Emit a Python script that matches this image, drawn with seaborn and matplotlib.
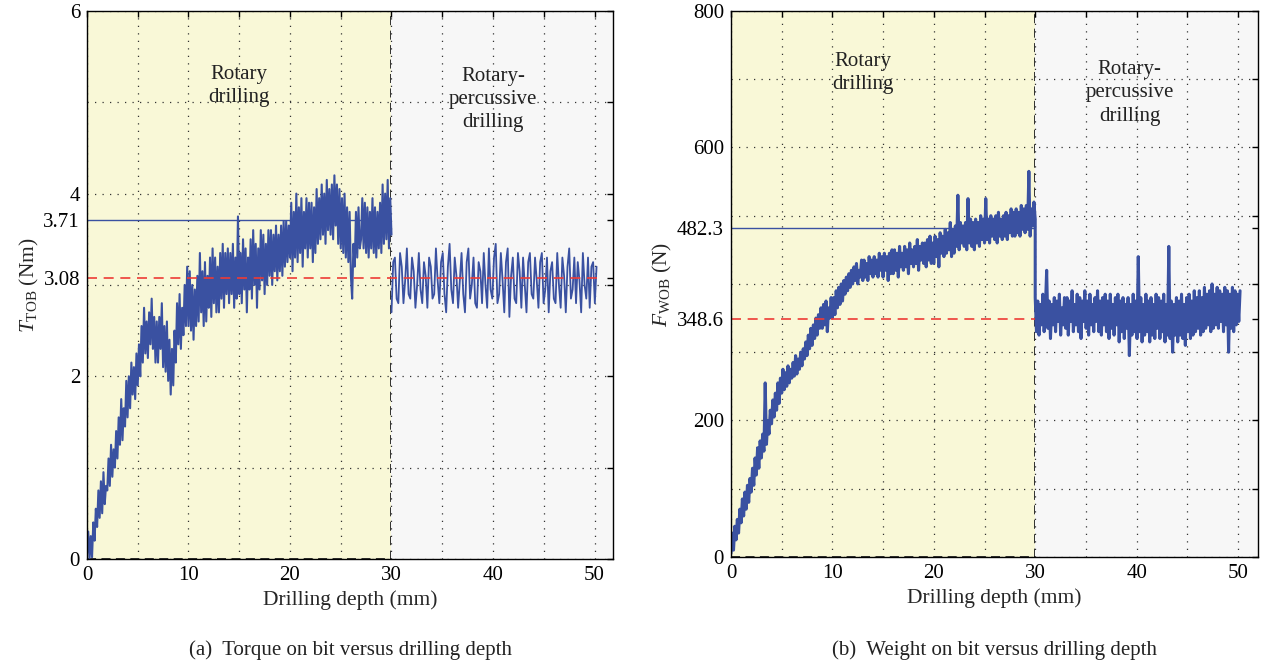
import numpy as np
import matplotlib
matplotlib.use("Agg")
import matplotlib.pyplot as plt
import seaborn as sns
from matplotlib.ticker import FixedLocator, FixedFormatter

# torque on bit (Nm), rotary part 0-30 mm, 8 samples per mm
torque_rotary = [
    0.05, 0.30, 0.00, 0.25, 0.02, 0.40, 0.20, 0.55,
    0.35, 0.75, 0.45, 0.85, 0.50, 0.95, 0.60, 0.80,
    0.75, 1.10, 0.80, 1.25, 0.90, 1.20, 1.00, 1.40,
    1.10, 1.55, 1.25, 1.75, 1.30, 1.65, 1.45, 1.95,
    1.55, 2.00, 1.65, 2.15, 1.80, 2.10, 1.75, 2.25,
    1.90, 2.35, 2.00, 2.55, 2.15, 2.75, 2.25, 2.60,
    2.20, 2.70, 2.35, 2.85, 2.30, 2.65, 2.15, 2.60,
    2.15, 2.65, 2.30, 2.80, 2.10, 2.55, 2.05, 2.60,
    1.95, 2.40, 1.80, 2.30, 1.90, 2.50, 2.15, 2.80,
    2.35, 2.90, 2.30, 2.75, 2.45, 3.00, 2.55, 3.20,
    2.55, 3.15, 2.50, 3.00, 2.40, 2.95, 2.55, 3.10,
    2.60, 3.35, 2.70, 3.15, 2.55, 3.25, 2.60, 3.10,
    2.75, 3.30, 2.65, 3.40, 2.80, 3.30, 2.70, 3.20,
    2.70, 3.35, 2.85, 3.45, 2.75, 3.35, 2.90, 3.40,
    2.80, 3.35, 2.90, 3.45, 2.75, 3.30, 2.85, 3.75,
    2.90, 3.35, 2.80, 3.50, 2.95, 3.40, 2.70, 3.30,
    2.95, 3.50, 2.85, 3.60, 3.00, 3.45, 2.75, 3.40,
    2.95, 3.60, 3.05, 3.55, 2.90, 3.45, 3.00, 3.60,
    3.10, 3.60, 3.00, 3.55, 3.15, 3.65, 3.05, 3.55,
    3.15, 3.65, 3.10, 3.70, 3.20, 3.70, 3.25, 3.65,
    3.30, 3.90, 3.15, 3.80, 3.30, 4.00, 3.25, 3.85,
    3.35, 3.95, 3.20, 3.80, 3.40, 3.95, 3.30, 3.90,
    3.40, 3.90, 3.25, 3.85, 3.35, 4.05, 3.45, 3.95,
    3.50, 4.10, 3.55, 4.00, 3.45, 4.15, 3.60, 4.05,
    3.55, 4.10, 3.50, 4.20, 3.65, 4.10, 3.45, 4.05,
    3.40, 3.95, 3.35, 4.00, 3.30, 3.85, 3.25, 3.80,
    3.10, 2.85, 3.45, 3.20, 3.80, 3.30, 3.85, 3.40,
    3.50, 3.95, 3.40, 3.90, 3.35, 3.85, 3.30, 3.80,
    3.40, 3.95, 3.35, 3.85, 3.30, 3.80, 3.40, 3.90,
    3.35, 4.10, 3.45, 4.00, 3.50, 4.15, 3.40, 3.95,
    3.55,
]

# torque on bit (Nm), rotary-percussive part 30-50.2 mm, 6 samples per mm
torque_percussive = [
    2.70, 3.25, 3.30, 2.85, 2.80, 3.35,
    3.20, 2.80, 3.05, 3.40, 2.90, 2.85,
    3.30, 3.15, 2.75, 3.00, 3.35, 2.95,
    2.80, 3.25, 3.10, 2.75, 3.30, 3.20,
    2.85, 2.90, 3.40, 3.05, 2.80, 3.25,
    3.35, 2.90, 2.70, 3.20, 3.45, 2.95,
    2.80, 3.30, 3.10, 2.75, 3.05, 3.35,
    2.90, 2.70, 3.25, 3.40, 2.85, 3.00,
    3.30, 2.80, 2.75, 3.25, 3.15, 2.80,
    3.35, 3.00, 2.75, 3.40, 2.95, 2.85,
    3.30, 3.45, 2.80, 2.90, 3.35, 3.05,
    2.70, 3.25, 3.40, 2.65, 3.10, 3.30,
    2.85, 2.80, 3.35, 3.15, 2.75, 3.30,
    3.00, 2.70, 3.25, 3.35, 2.90, 2.85,
    3.30, 3.05, 2.75, 3.25, 3.35, 2.80,
    2.95, 3.30, 2.70, 3.15, 3.25, 2.85,
    2.80, 3.35, 3.00, 2.75, 3.30, 3.10,
    2.70, 3.20, 3.40, 2.85, 2.95, 3.30,
    2.80, 3.25, 3.05, 2.70, 3.35, 3.00,
    2.85, 3.30, 2.75, 3.20, 3.25, 2.80,
    3.20,
]

# weight on bit (N), rotary part 0-30 mm
wob_rotary = [
    5, 35, 10, 45, 25, 55, 35, 70,
    50, 85, 60, 95, 70, 105, 80, 115,
    95, 130, 105, 145, 120, 160, 130, 170,
    145, 180, 155, 255, 165, 200, 180, 215,
    195, 230, 205, 240, 215, 255, 225, 262,
    240, 275, 245, 270, 250, 280, 255, 275,
    262, 285, 265, 295, 268, 290, 275, 300,
    280, 305, 290, 315, 295, 325, 305, 335,
    310, 340, 320, 350, 325, 355, 335, 365,
    335, 370, 340, 375, 330, 365, 350, 380,
    350, 380, 355, 390, 365, 395, 370, 400,
    375, 405, 385, 410, 390, 415, 395, 420,
    400, 425, 405, 430, 400, 420, 410, 435,
    405, 435, 410, 430, 405, 440, 415, 435,
    410, 440, 415, 435, 410, 445, 420, 440,
    410, 445, 420, 440, 405, 445, 415, 450,
    415, 450, 420, 445, 410, 455, 425, 445,
    420, 455, 425, 450, 415, 460, 430, 450,
    425, 455, 430, 465, 420, 455, 435, 460,
    430, 460, 425, 465, 435, 470, 430, 460,
    430, 470, 440, 465, 425, 475, 445, 470,
    440, 480, 445, 475, 450, 490, 440, 480,
    445, 485, 455, 530, 450, 490, 460, 485,
    455, 490, 450, 525, 460, 495, 455, 490,
    450, 495, 460, 490, 455, 500, 465, 495,
    460, 525, 465, 495, 460, 500, 470, 495,
    465, 500, 460, 505, 470, 495, 465, 500,
    470, 505, 465, 500, 475, 510, 470, 505,
    470, 510, 475, 505, 470, 515, 480, 510,
    475, 515, 480, 565, 470, 510, 485, 520,
    495,
]

# weight on bit (N), rotary-percussive part 30-50.2 mm
wob_percussive = [
    380, 330, 375, 325, 370, 340, 385, 330,
    365, 420, 335, 375, 320, 370, 340, 380,
    330, 375, 345, 385, 325, 365, 340, 380,
    335, 380, 325, 375, 345, 390, 330, 370,
    340, 385, 330, 380, 320, 375, 345, 390,
    335, 375, 325, 385, 340, 370, 330, 380,
    345, 390, 330, 375, 325, 380, 340, 385,
    330, 375, 320, 385, 335, 370, 325, 380,
    340, 385, 315, 375, 330, 380, 320, 370,
    335, 380, 295, 370, 325, 385, 330, 375,
    320, 440, 330, 380, 315, 370, 325, 385,
    330, 375, 315, 380, 325, 370, 320, 385,
    335, 380, 320, 375, 330, 385, 315, 370,
    325, 455, 320, 375, 300, 370, 325, 380,
    315, 375, 325, 385, 320, 370, 310, 380,
    330, 385, 320, 375, 325, 390, 330, 380,
    335, 390, 325, 380, 330, 395, 335, 385,
    340, 390, 330, 400, 335, 385, 340, 395,
    335, 390, 345, 385, 330, 395, 340, 390,
    300, 385, 335, 395, 330, 390, 340, 385,
    345, 390,
]

TOB_ROTARY_MEAN = 3.71
TOB_PERC_MEAN = 3.08
WOB_ROTARY_MEAN = 482.3
WOB_PERC_MEAN = 348.6

ROTARY_END = 30
PERC_END = 50.2

depth_rot_t = np.linspace(0, ROTARY_END, len(torque_rotary))
depth_perc_t = np.linspace(ROTARY_END, PERC_END, len(torque_percussive))
depth_rot_w = np.linspace(0, ROTARY_END, len(wob_rotary))
depth_perc_w = np.linspace(ROTARY_END, PERC_END, len(wob_percussive))

BLUE = "#3a51a1"
RED = "#ee3b35"
YELLOW = "#f9f8d7"
GREY = "#f7f7f7"
FS = 15

sns.set_theme(style="white")
plt.rcParams.update({
    "font.family": ["Liberation Serif", "DejaVu Serif"],
    "mathtext.fontset": "custom",
    "mathtext.rm": "Liberation Serif",
    "mathtext.it": "Liberation Serif:italic",
    "font.size": FS,
    "axes.edgecolor": "black",
    "axes.linewidth": 1.0,
    "xtick.color": "black",
    "ytick.color": "black",
    "text.color": "#222222",
})

fig = plt.figure(figsize=(12.64, 6.67), dpi=100)
ax1 = fig.add_axes([0.0688, 0.162, 0.416, 0.8216])
ax2 = fig.add_axes([0.5783, 0.165, 0.4172, 0.8186])


def style_axes(ax, xmax, ymax, ystep, ylabels, extra, ylabel):
    ax.set_facecolor("white")
    ax.set_xlim(0, xmax)
    ax.set_ylim(0, ymax)
    ax.axvspan(0, ROTARY_END, facecolor=YELLOW, edgecolor="#222222",
               linestyle=(0, (5, 3)), linewidth=1.3, zorder=0)
    ax.axvspan(ROTARY_END, xmax, facecolor=GREY, edgecolor="none", zorder=0)
    # major ticks carry the grid, minor ticks carry the mean labels
    xt = np.arange(0, 51, 5)
    ax.xaxis.set_major_locator(FixedLocator(xt))
    ax.xaxis.set_major_formatter(FixedFormatter(
        [str(v) if v % 10 == 0 else "" for v in xt]))
    yt = np.arange(0, ymax + ystep / 2, ystep)
    ax.yaxis.set_major_locator(FixedLocator(yt))
    ax.yaxis.set_major_formatter(FixedFormatter(ylabels))
    ax.yaxis.set_minor_locator(FixedLocator(extra))
    ax.yaxis.set_minor_formatter(FixedFormatter([str(v) for v in extra]))
    ax.grid(True, which="major", color="#333333", linestyle=(0, (1, 5)),
            linewidth=0.9)
    ax.set_axisbelow(True)
    ax.tick_params(which="both", direction="in", top=True, right=True,
                   length=4, width=1.0, labelsize=FS, pad=5)
    ax.set_xlabel("Drilling depth (mm)", fontsize=FS + 0.5, labelpad=4)
    ax.set_ylabel(ylabel, fontsize=FS + 0.5, labelpad=2)
    for s in ax.spines.values():
        s.set_zorder(5)


# (a) torque
style_axes(ax1, 51.8, 6, 1, ["0", "", "2", "", "4", "", "6"],
           [TOB_PERC_MEAN, TOB_ROTARY_MEAN], r"$T_{\mathrm{TOB}}$ (Nm)")
sns.lineplot(x=depth_rot_t, y=torque_rotary, ax=ax1, color=BLUE,
             linewidth=1.5, estimator=None, sort=False, zorder=3)
sns.lineplot(x=depth_perc_t, y=torque_percussive, ax=ax1, color=BLUE,
             linewidth=1.3, estimator=None, sort=False, zorder=3)
ax1.hlines(TOB_ROTARY_MEAN, 0, ROTARY_END, color=BLUE, linewidth=1.0, zorder=3)
ax1.hlines(TOB_PERC_MEAN, 0, PERC_END, color=RED, linewidth=1.2,
           linestyle=(0, (6, 4)), zorder=4)
ax1.text(15, 5.18, "Rotary\ndrilling", ha="center", va="center",
         fontsize=FS, linespacing=1.3)
ax1.text(40, 5.03, "Rotary-\npercussive\ndrilling", ha="center", va="center",
         fontsize=FS, linespacing=1.3)

# (b) weight on bit
style_axes(ax2, 52, 800, 100,
           ["0", "", "200", "", "", "", "600", "", "800"],
           [WOB_PERC_MEAN, WOB_ROTARY_MEAN], r"$F_{\mathrm{WOB}}$ (N)")
sns.lineplot(x=np.concatenate([depth_rot_w, depth_perc_w]),
             y=np.concatenate([wob_rotary, wob_percussive]),
             ax=ax2, color=BLUE, linewidth=2.2, estimator=None, sort=False,
             zorder=3)
ax2.hlines(WOB_ROTARY_MEAN, 0, ROTARY_END, color=BLUE, linewidth=1.0, zorder=3)
ax2.hlines(WOB_PERC_MEAN, 0, ROTARY_END, color=RED, linewidth=1.2,
           linestyle=(0, (6, 4)), zorder=4)
ax2.text(13, 709, "Rotary\ndrilling", ha="center", va="center",
         fontsize=FS, linespacing=1.3)
ax2.text(39.3, 680, "Rotary-\npercussive\ndrilling", ha="center", va="center",
         fontsize=FS, linespacing=1.3)

fig.text(0.277, 0.01, "(a)  Torque on bit versus drilling depth",
         ha="center", va="bottom", fontsize=FS)
fig.text(0.787, 0.01, "(b)  Weight on bit versus drilling depth",
         ha="center", va="bottom", fontsize=FS)

fig.savefig("out.png", dpi=100)
